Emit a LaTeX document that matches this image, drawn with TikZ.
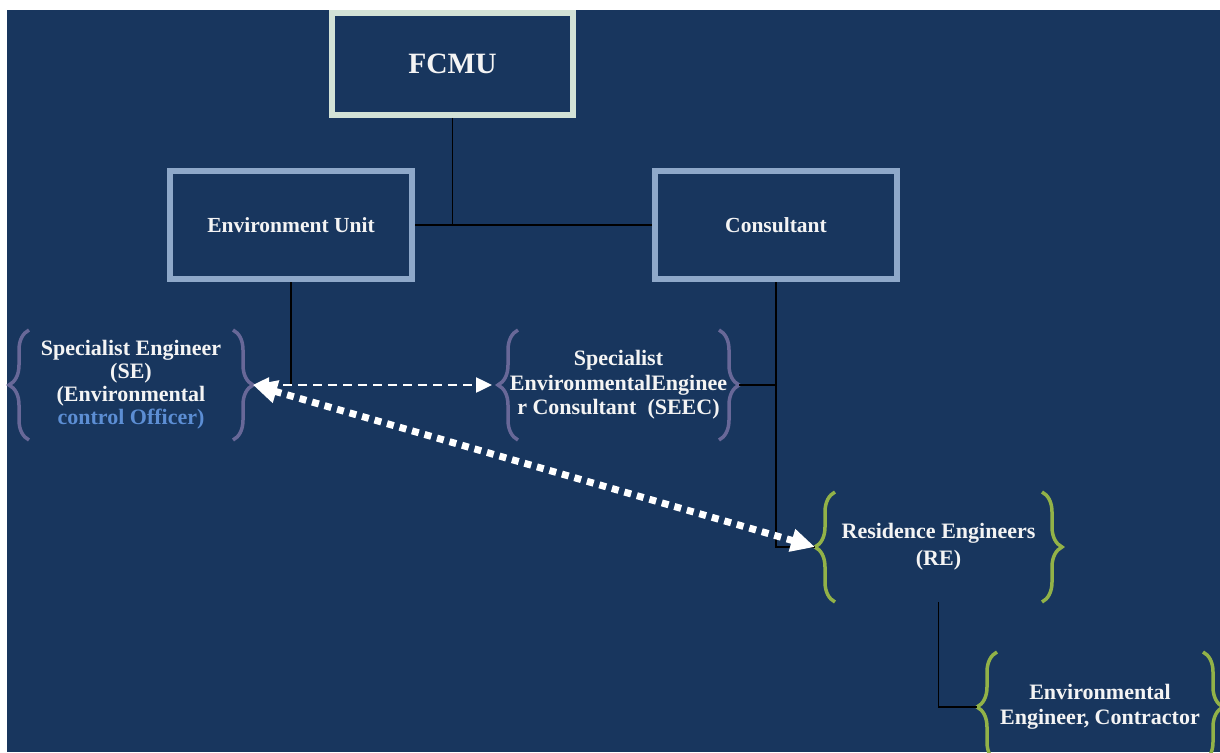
\documentclass[tikz,border=0pt]{standalone}
\usepackage{fontspec}
\setmainfont{Liberation Serif}
\usetikzlibrary{arrows.meta,decorations.pathreplacing}

\definecolor{navy}{RGB}{24,54,94}
\definecolor{fcmuedge}{RGB}{211,226,214}
\definecolor{unitedge}{RGB}{142,168,201}
\definecolor{violetbrace}{RGB}{104,104,152}
\definecolor{greenbrace}{RGB}{146,178,72}
\definecolor{labeltext}{RGB}{244,244,244}
\definecolor{officerblue}{RGB}{92,142,212}

\tikzset{
  x=1pt, y=-1pt,
  unitbox/.style={draw=unitedge, line width=6pt, fill=navy, inner sep=0pt,
    minimum width=242pt, minimum height=108pt,
    text=labeltext, font=\fontsize{21.5}{24}\selectfont\bfseries},
  topbox/.style={unitbox, draw=fcmuedge, line width=5.5pt,
    minimum width=241pt, minimum height=102pt,
    font=\fontsize{29.5}{32}\selectfont\bfseries},
  bracegroup/.style={inner sep=0pt, outer sep=0pt, align=center,
    minimum height=110pt, text=labeltext},
  bracefont/.style={font=\fontsize{22}{#1}\selectfont\bfseries},
  curly/.style={decorate, decoration={brace, amplitude=20pt},
    line width=3.5pt, draw=#1},
  conn/.style={draw=black, line width=1.5pt},
  dasharrow/.style={draw=white, line width=2.5pt, dash pattern=on 9pt off 6pt,
    {Triangle[length=16pt,width=15pt]}-{Triangle[length=16pt,width=15pt]}},
  dotarrow/.style={draw=white, line width=7pt, dash pattern=on 7pt off 6pt,
    {Triangle[length=24pt,width=22pt]}-{Triangle[length=24pt,width=22pt]}}
}

\begin{document}
\begin{tikzpicture}
  \useasboundingbox (0,0) rectangle (1220,752);
  \clip (0,0) rectangle (1220,752);
  \fill[white] (0,0) rectangle (1220,752);
  \fill[navy] (7,10) rectangle (1220,752);

  % boxes
  \node[topbox]  (fcmu) at (452.5,64) {FCMU};
  \node[unitbox] (eu)   at (291,225)  {Environment Unit};
  \node[unitbox] (cons) at (776,225)  {Consultant};

  % bracketed groups
  \node[bracegroup, bracefont=23pt, minimum width=244pt] (se) at (131,385)
    {Specialist Engineer\\(SE)\\(Environmental\\\textcolor{officerblue}{control Officer)}};
  \node[bracegroup, bracefont=24.5pt, minimum width=241pt] (seec) at (618.5,385)
    {Specialist\\EnvironmentalEnginee\\r Consultant\ \ (SEEC)};
  \node[bracegroup, bracefont=27pt, minimum width=247pt] (re) at (938.5,547)
    {Residence Engineers\\(RE)};
  \node[bracegroup, bracefont=25pt, minimum width=246pt] (ee) at (1100,707)
    {Environmental\\Engineer, Contractor};

  \foreach \g/\c in {se/violetbrace, seec/violetbrace, re/greenbrace, ee/greenbrace}{
    \draw[curly=\c] ([xshift=20pt]\g.south west) -- ([xshift=20pt]\g.north west);
    \draw[curly=\c] ([xshift=-20pt]\g.north east) -- ([xshift=-20pt]\g.south east);
  }

  % reporting lines
  \draw[conn] (fcmu.south) -- (fcmu.south |- eu.east);
  \draw[conn] (eu.east) -- (cons.west);
  \draw[conn] (eu.south) -- (eu.south |- se.east);
  \draw[conn] (cons.south) |- (re.west);
  \draw[conn] (seec.east) -- (seec.east -| cons.south);
  \draw[conn] (re.south) |- (ee.west);

  % coordination arrows
  \draw[dasharrow] (se.east) -- ([xshift=-6pt]seec.west);
  \draw[dotarrow] (se.east) -- (re.west);
\end{tikzpicture}
\end{document}
